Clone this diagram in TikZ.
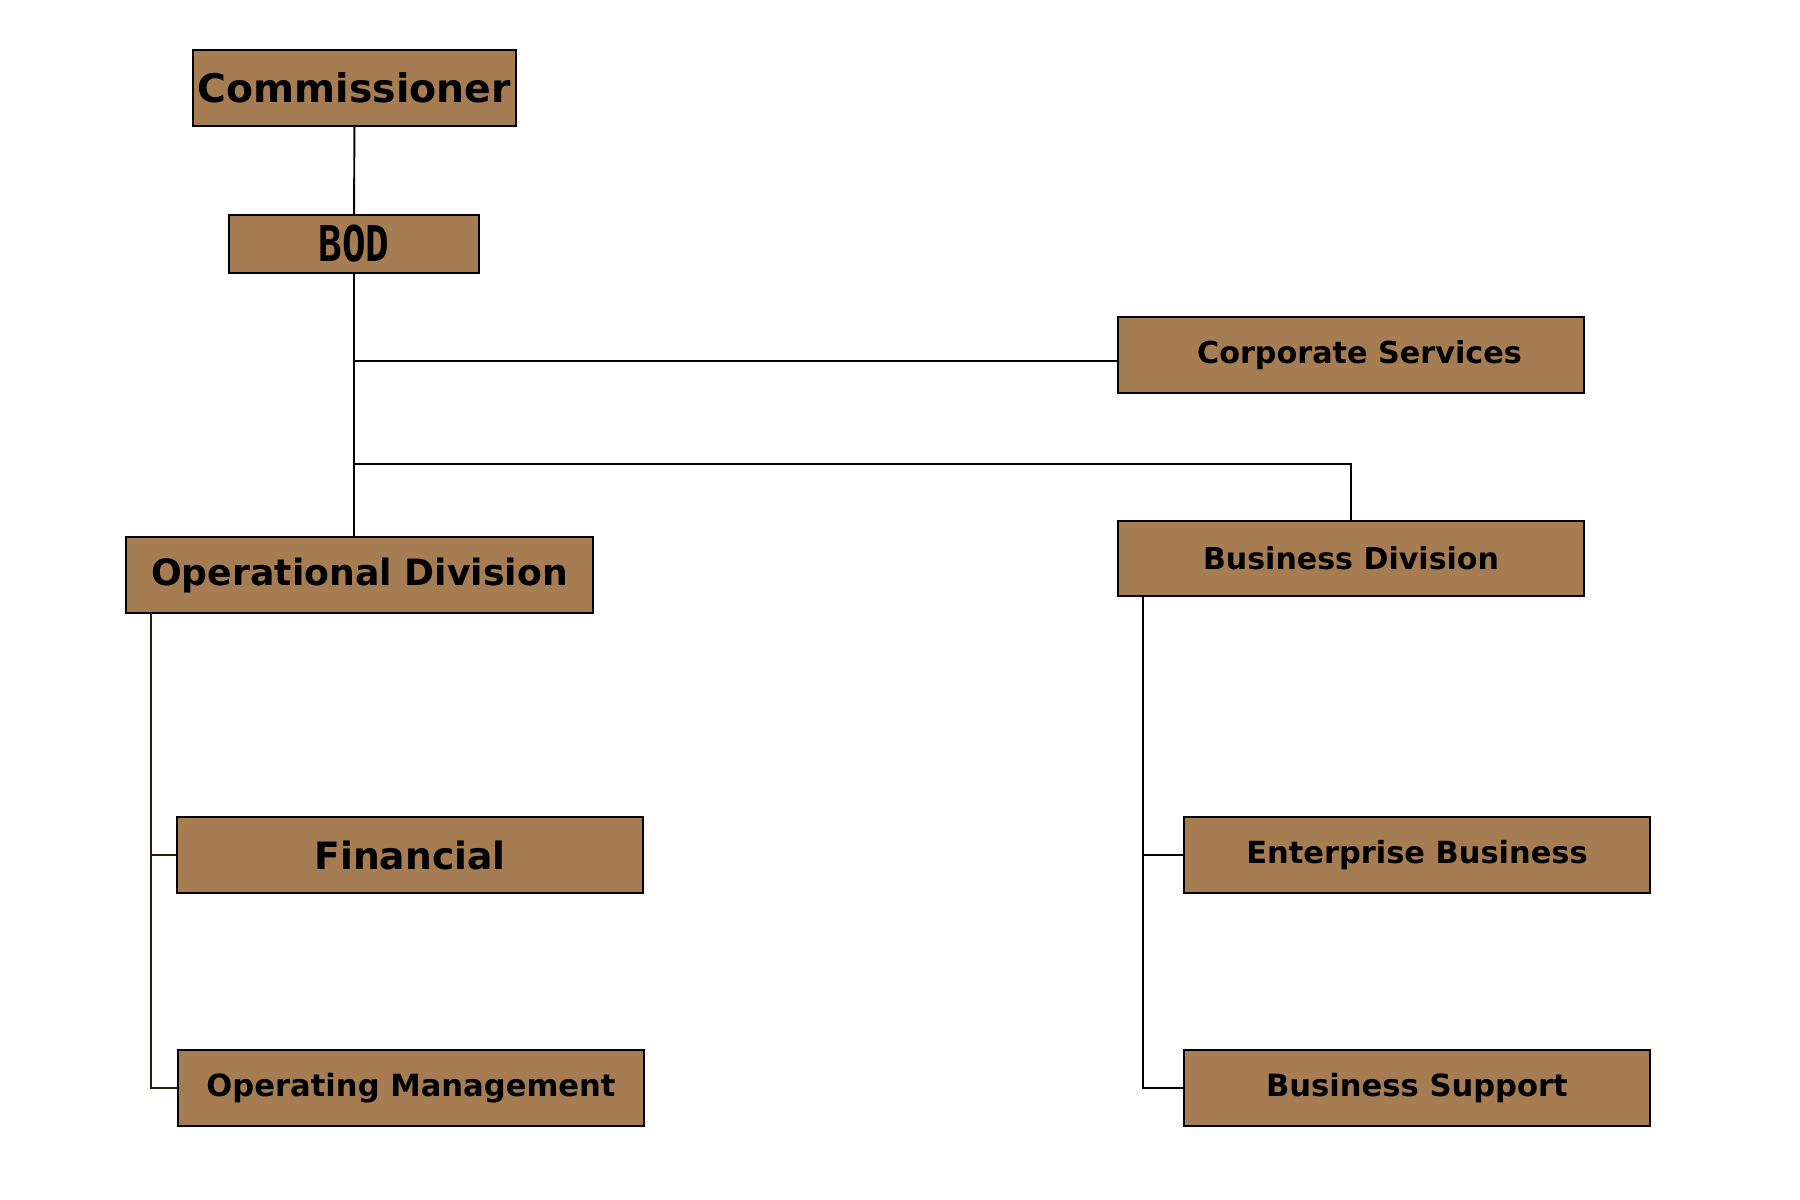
\documentclass[tikz,border=0pt]{standalone}
\usepackage{fontspec}
\setmainfont{DejaVu Sans}
\newfontfamily\bodfont{DejaVu Sans Mono}
\usetikzlibrary{positioning,calc}

\definecolor{boxbrown}{HTML}{A67C52}
\definecolor{trunkdark}{HTML}{2B1D10}
\newcommand{\fsz}[1]{\fontsize{#1}{#1}\selectfont}

\tikzset{
  unit/.style={draw=black, fill=boxbrown, line width=0.4pt, inner sep=0pt,
    minimum width=4.66cm, minimum height=0.76cm, font=\bfseries},
  link/.style={draw=black, line width=0.55pt},
  trunk/.style={draw=trunkdark, line width=0.7pt}
}

\begin{document}
\begin{tikzpicture}[x=0.01cm, y=-0.01cm]
  \useasboundingbox (0,0) rectangle (1800,1200);
  % top of the chart
  \node[unit, minimum width=3.23cm, font=\bfseries\fsz{11.2}] (comm) at (354.5,88) {Commissioner};
  \node[unit, minimum width=2.5cm, minimum height=0.58cm] (bod) at (354,244)
    {\bodfont\bfseries\fsz{14}\scalebox{0.8}[1]{BOD}};
  % divisions
  \node[unit, font=\bfseries\fsz{8.6}] (corp) at (1351,355) {\hspace{0.17cm}Corporate Services};
  \node[unit, minimum height=0.75cm, font=\bfseries\fsz{8.55}] (busdiv) at (1351,558.5) {Business Division};
  \node[unit, minimum width=4.67cm, font=\bfseries\fsz{10.3}] (opdiv) at (359.5,575) {Operational Division};
  % units
  \node[unit, font=\bfseries\fsz{10.7}] (fin) at (410,855) {Financial};
  \node[unit, font=\bfseries\fsz{8.7}] (opm) at (411,1088) {Operating Management};
  \node[unit, font=\bfseries\fsz{8.66}] (ent) at (1417,855) {Enterprise Business};
  \node[unit, font=\bfseries\fsz{8.7}] (bsup) at (1417,1088) {Business Support};
  % connectors
  \coordinate (j1) at (355,361);
  \coordinate (j2) at (355,464);
  \coordinate (optrunk) at (151,613);
  \coordinate (bustrunk) at (1143,596);
  \draw[link] (comm) -- (bod);
  \draw[link] (bod.south) -- (bod.south |- opdiv.north);
  \draw[link] (j1) -- (corp.west |- j1);
  \draw[link] (j2) -- (busdiv.north |- j2) -- (busdiv.north);
  \draw[trunk] (optrunk) |- (fin.west);
  \draw[trunk] (optrunk) |- (opm.west);
  \draw[link] (bustrunk) |- (ent.west);
  \draw[link] (bustrunk) |- (bsup.west);
\end{tikzpicture}
\end{document}
